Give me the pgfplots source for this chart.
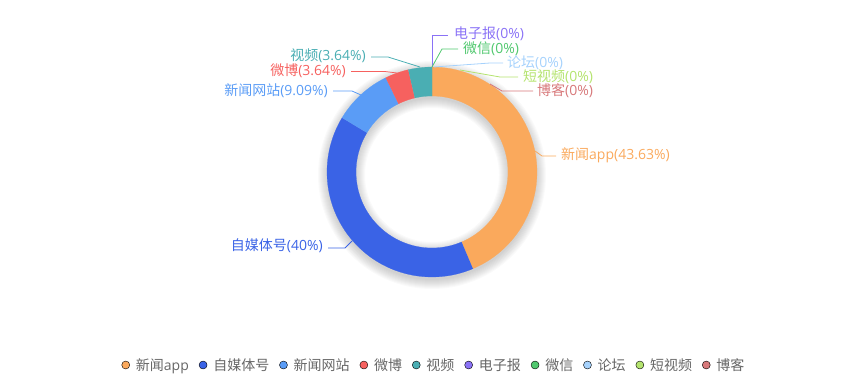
\documentclass[border=0pt]{standalone}
\usepackage{pgfplots}
\pgfplotsset{compat=1.18}
\usepackage{pgfplotstable}
\usepackage{fontspec}
\setmainfont{Open Sans}
\newfontfamily\cjk{Noto Sans CJK SC}
\newcommand{\zh}[1]{{\cjk #1}}
\newcommand{\lab}{\fontsize{14bp}{16bp}\selectfont}

\definecolor{c1}{HTML}{FAA95C}
\definecolor{c2}{HTML}{3A63E6}
\definecolor{c3}{HTML}{5A9CF6}
\definecolor{c4}{HTML}{F6615F}
\definecolor{c5}{HTML}{4AAEB3}
\definecolor{c6}{HTML}{8A72F6}
\definecolor{c7}{HTML}{50C86E}
\definecolor{c8}{HTML}{A6D2FC}
\definecolor{c9}{HTML}{B4E36E}
\definecolor{c10}{HTML}{D7787A}
\definecolor{legendgray}{HTML}{666666}

\pgfplotstableread{
label value
app 43.63
zimeiti 40
wangzhan 9.09
weibo 3.64
shipin 3.64
dianzibao 0
weixin 0
luntan 0
duanshipin 0
boke 0
}\piedata

\pgfplotstablegetelem{0}{value}\of\piedata \pgfmathsetmacro\vA{\pgfplotsretval}
\pgfplotstablegetelem{1}{value}\of\piedata \pgfmathsetmacro\vB{\pgfplotsretval}
\pgfplotstablegetelem{2}{value}\of\piedata \pgfmathsetmacro\vC{\pgfplotsretval}
\pgfplotstablegetelem{3}{value}\of\piedata \pgfmathsetmacro\vD{\pgfplotsretval}
\pgfplotstablegetelem{4}{value}\of\piedata \pgfmathsetmacro\vE{\pgfplotsretval}
\pgfmathsetmacro\aA{90}
\pgfmathsetmacro\aB{\aA-3.6*\vA}
\pgfmathsetmacro\aC{\aB-3.6*\vB}
\pgfmathsetmacro\aD{\aC-3.6*\vC}
\pgfmathsetmacro\aE{\aD-3.6*\vD}
\pgfmathsetmacro\aF{\aE-3.6*\vE}

\newcommand{\slice}[3]{%
 \addplot[fill=#1, draw=#1, line width=0.2bp, forget plot, samples at={0,1,...,60,100,101,...,160}, variable=\t]
 ({432+ifthenelse(\t<80,105,76)*cos(ifthenelse(\t<80,(#2)+((#3)-(#2))*\t/60,(#3)-((#3)-(#2))*(\t-100)/60))},
  {172-ifthenelse(\t<80,105,76)*sin(ifthenelse(\t<80,(#2)+((#3)-(#2))*\t/60,(#3)-((#3)-(#2))*(\t-100)/60))});
}

\begin{document}
\begin{tikzpicture}
\begin{axis}[
  width=864bp, height=382bp, scale only axis,
  xmin=0, xmax=864, ymin=0, ymax=382, y dir=reverse,
  hide axis, clip=false,
  legend style={at={(axis cs:433,365)}, anchor=center, draw=none, fill=none,
    font=\lab, text=legendgray, nodes={inner sep=0pt},
    /tikz/every odd column/.append style={column sep=6bp},
    /tikz/every even column/.append style={column sep=10bp}},
  legend columns=-1,
  legend image code/.code={\fill[#1] (0bp,0bp) circle (4bp);},
]
\path (axis cs:0,0) rectangle (axis cs:864,382);
% shadow
\pgfplotsinvokeforeach{1,...,10}{
  \fill[black, opacity=0.018, even odd rule] (axis cs:432,175) circle [radius={(104+#1)*1bp}] (axis cs:432,175) circle [radius={(77-#1)*1bp}];
}
\slice{c1}{\aA}{\aB}
\slice{c2}{\aB}{\aC}
\slice{c3}{\aC}{\aD}
\slice{c4}{\aD}{\aE}
\slice{c5}{\aE}{\aF}

% leader lines
\addplot[c1, line width=0.8bp, forget plot] coordinates {(535,151) (542,156) (556,156)};
\addplot[c2, line width=0.8bp, forget plot] coordinates {(352,241) (345,248) (328,248)};
\addplot[c3, line width=0.8bp, forget plot] coordinates {(361,95) (352,91) (333,91)};
\addplot[c4, line width=0.8bp, forget plot] coordinates {(397,73) (385,71.5) (351,71.5)};
\addplot[c5, line width=0.8bp, forget plot] coordinates {(420,67) (388,57) (371,57)};
\addplot[c6, line width=0.8bp, forget plot] coordinates {(432,67) (432,35) (448,35)};
\addplot[c7, line width=0.8bp, forget plot] coordinates {(432,67) (442,49) (458,49)};
\addplot[c8, line width=0.8bp, forget plot] coordinates {(434,67) (490,63) (503,63)};
\addplot[c9, line width=0.8bp, forget plot] coordinates {(460,70) (500,77) (518,77)};
\addplot[c10, line width=0.8bp, forget plot] coordinates {(490,84) (502,91) (533,91)};

% labels
\node[anchor=west, text=c1, font=\lab, inner sep=0pt] at (axis cs:561,155) {\zh{新闻}app(43.63\%)};
\node[anchor=east, text=c2, font=\lab, inner sep=0pt] at (axis cs:323,246) {\zh{自媒体号}(40\%)};
\node[anchor=east, text=c3, font=\lab, inner sep=0pt] at (axis cs:328,91) {\zh{新闻网站}(9.09\%)};
\node[anchor=east, text=c4, font=\lab, inner sep=0pt] at (axis cs:346,71) {\zh{微博}(3.64\%)};
\node[anchor=east, text=c5, font=\lab, inner sep=0pt] at (axis cs:366,56) {\zh{视频}(3.64\%)};
\node[anchor=west, text=c6, font=\lab, inner sep=0pt] at (axis cs:454,34) {\zh{电子报}(0\%)};
\node[anchor=west, text=c7, font=\lab, inner sep=0pt] at (axis cs:463,49) {\zh{微信}(0\%)};
\node[anchor=west, text=c8, font=\lab, inner sep=0pt] at (axis cs:507,63) {\zh{论坛}(0\%)};
\node[anchor=west, text=c9, font=\lab, inner sep=0pt] at (axis cs:523,77) {\zh{短视频}(0\%)};
\node[anchor=west, text=c10, font=\lab, inner sep=0pt] at (axis cs:537,91) {\zh{博客}(0\%)};

% legend
\addlegendimage{fill=c1}\addlegendentry{\zh{新闻}app}
\addlegendimage{fill=c2}\addlegendentry{\zh{自媒体号}}
\addlegendimage{fill=c3}\addlegendentry{\zh{新闻网站}}
\addlegendimage{fill=c4}\addlegendentry{\zh{微博}}
\addlegendimage{fill=c5}\addlegendentry{\zh{视频}}
\addlegendimage{fill=c6}\addlegendentry{\zh{电子报}}
\addlegendimage{fill=c7}\addlegendentry{\zh{微信}}
\addlegendimage{fill=c8}\addlegendentry{\zh{论坛}}
\addlegendimage{fill=c9}\addlegendentry{\zh{短视频}}
\addlegendimage{fill=c10}\addlegendentry{\zh{博客}}
\end{axis}
\end{tikzpicture}
\end{document}
